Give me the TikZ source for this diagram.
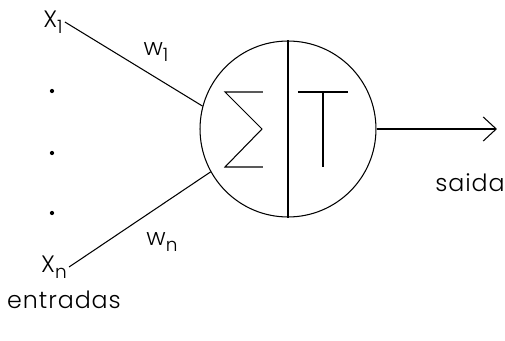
\documentclass[tikz,border=0pt]{standalone}
\usepackage{fontspec}
\setmainfont{Poppins}[UprightFont=* Light, LetterSpace=4]
\usepackage{tikz}
\usetikzlibrary{arrows.meta,positioning}
\newcommand{\lowidx}[1]{\raisebox{-3.6pt}{\fontsize{10.5}{12}\selectfont #1}}

\begin{document}
\begin{tikzpicture}[
  x=0.02cm, y=-0.02cm,
  font=\fontsize{13.5}{16}\selectfont,
  line width=0.6pt,
  lbl/.style  = {inner sep=1pt},
  pt/.style   = {circle, fill, inner sep=0pt, minimum size=2.4pt},
  cell/.style = {draw, circle, minimum size=3.52cm, inner sep=0pt},
  arr/.style  = {-{Straight Barb[length=2.6mm,width=4.8mm]}}
]
\useasboundingbox (0,0) rectangle (505,341);
%% -- Neuron --
\node[cell] (cell) at (288,129) {};
\draw (cell.north) -- (cell.south);
\draw (263,92) -- (225,92) -- (262,129) -- (225,167) -- (263,167);
\draw (298,92) -- (348,92);
\draw (323,92) -- (323,167);
%% -- Inputs --
\node[lbl] (x1) at (53,22)  {X\lowidx{1}};
\node[lbl] (xn) at (54,267) {X\lowidx{n}};
\node[pt]  (d1) at (52,91)  {};
\node[pt]  (d2) at (52,153) {};
\node[pt]  (d3) at (52,213) {};
\node[lbl] (w1) at (156,52)  {w\lowidx{1}};
\node[lbl] (wn) at (162,242) {w\lowidx{n}};
\node[lbl] (ent) at (64,300) {entradas};
%% -- Flow --
\draw (x1.east) -- (cell.165);
\draw (xn.east) -- (cell.209);
%% -- Output --
\coordinate (out) at (497,129);
\draw[arr] (cell.east) -- (out);
\node[lbl] (sai) at (470,183) {saida};
\end{tikzpicture}
\end{document}
